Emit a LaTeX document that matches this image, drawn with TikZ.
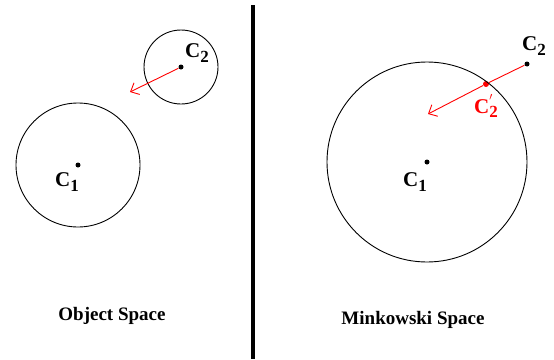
\documentclass[tikz,border=0pt]{standalone}
\usepackage{fontspec}
\setmainfont{Liberation Serif}
\usetikzlibrary{positioning,arrows.meta}
\definecolor{Arrow}{HTML}{FF0000}
\newcommand{\pnt}[1]{C\raisebox{-0.5ex}{\fontsize{17}{17}\selectfont #1}}
\newcommand{\pntprime}[1]{C\rlap{\raisebox{0.8ex}{\fontsize{15}{15}\selectfont$'$}}\raisebox{-0.5ex}{\fontsize{17}{17}\selectfont #1}}

\begin{document}
\begin{tikzpicture}[x=1pt, y=-1pt, line width=0.9pt, every node/.style={font=\fontsize{19}{22}\selectfont\bfseries}]
        \tikzstyle{ctr}=[circle, fill=black, inner sep=0pt, minimum size=5pt]
        \tikzstyle{lbl}=[inner sep=0pt, font=\fontsize{21}{24}\selectfont\bfseries]
        \tikzstyle{vec}=[-{Straight Barb[length=7pt, width=13pt]}, Arrow]
        \useasboundingbox (0,0) rectangle (554,359);
        % object space
        \node[ctr] (a1) at (78,165) {};
        \node[ctr] (a2) at (181,67) {};
        \coordinate (ae) at (130,92);
        \draw (a1) circle (62);
        \draw (a2) circle (37);
        \node[lbl] at (67,182) {\pnt{1}};
        \node[lbl] at (197,53) {\pnt{2}};
        \draw[vec] (a2) -- (ae);
        \node at (112,316) {Object Space};
        % divider
        \draw[line width=4.5pt] (253,5) -- (253,359);
        % minkowski space
        \node[ctr] (b1) at (427,162) {};
        \node[ctr] (b2) at (527,64) {};
        \node[circle, fill=Arrow, inner sep=0pt, minimum size=6pt] (b3) at (486,84) {};
        \coordinate (be) at (428,114);
        \draw (b1) circle (100);
        \node[lbl] at (415,182) {\pnt{1}};
        \node[lbl] at (534,46) {\pnt{2}};
        \node[lbl, Arrow] at (486,106) {\pntprime{2}};
        \draw[Arrow] (b2) -- (b3);
        \draw[vec] (b3) -- (be);
        \node at (413,320) {Minkowski Space};
\end{tikzpicture}
\end{document}
